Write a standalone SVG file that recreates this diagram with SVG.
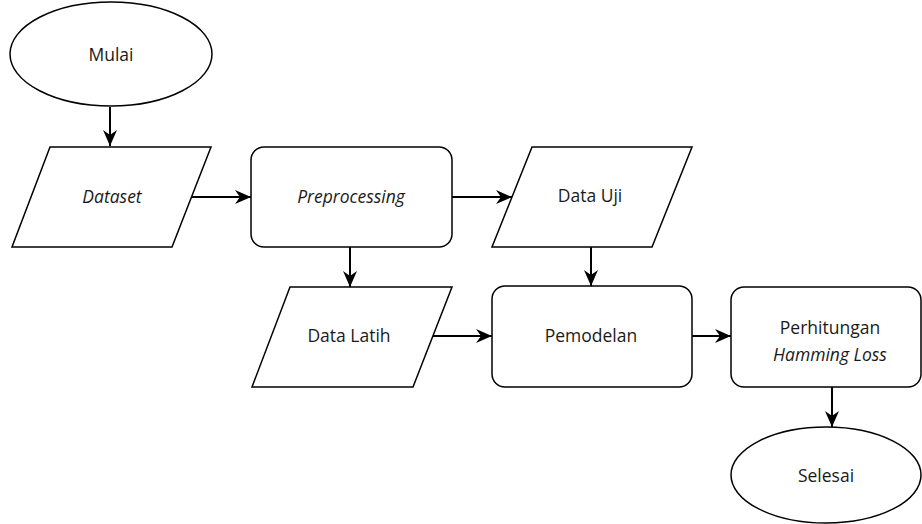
<svg xmlns="http://www.w3.org/2000/svg" width="922" height="524" viewBox="0 0 922 524">
  <style>
    .shape { fill: #ffffff; stroke: #000000; stroke-width: 1.5; }
    .label { font-family: "Open Sans", "Noto Sans", sans-serif; font-size: 17.5px; fill: #1a1a1a; text-anchor: middle; dominant-baseline: central; }
    .it { font-style: italic; }
    .edge { fill: none; stroke: #000000; stroke-width: 2; marker-end: url(#head); }
  </style>
  <defs>
    <marker id="head" markerUnits="userSpaceOnUse" markerWidth="20" markerHeight="16" refX="17" refY="8" orient="auto" viewBox="0 0 20 16">
      <path d="M17,8 L1,1 L6,8 L1,15 Z" fill="#000000"/>
    </marker>
  </defs>
  <rect width="922" height="524" fill="#ffffff"/>

  <g id="connectors">
    <line class="edge" x1="110" y1="107" x2="110" y2="146"/>
    <line class="edge" x1="192" y1="197" x2="251" y2="197"/>
    <line class="edge" x1="452" y1="197" x2="512" y2="197"/>
    <line class="edge" x1="350" y1="247" x2="350" y2="287"/>
    <line class="edge" x1="591" y1="247" x2="591" y2="286"/>
    <line class="edge" x1="432" y1="336" x2="492" y2="336"/>
    <line class="edge" x1="692" y1="336" x2="731" y2="336"/>
    <line class="edge" x1="832" y1="387" x2="832" y2="427"/>
  </g>

  <g id="mulai">
    <ellipse class="shape" cx="111" cy="54" rx="101" ry="52"/>
    <text class="label" x="111" y="54">Mulai</text>
  </g>

  <g id="dataset">
    <polygon class="shape" points="50,147 211,147 172,247 12,247"/>
    <text class="label it" x="112" y="196">Dataset</text>
  </g>

  <g id="preprocessing">
    <rect class="shape" x="251" y="147" width="201" height="100" rx="13" ry="13"/>
    <text class="label it" x="351" y="196">Preprocessing</text>
  </g>

  <g id="data-uji">
    <polygon class="shape" points="532,147 692,147 652,247 492,247"/>
    <text class="label" x="590" y="195">Data Uji</text>
  </g>

  <g id="data-latih">
    <polygon class="shape" points="290,287 452,287 413,387 252,387"/>
    <text class="label" x="349" y="335">Data Latih</text>
  </g>

  <g id="pemodelan">
    <rect class="shape" x="492" y="286" width="200" height="101" rx="13" ry="13"/>
    <text class="label" x="591" y="335">Pemodelan</text>
  </g>

  <g id="perhitungan">
    <rect class="shape" x="731" y="287" width="190" height="100" rx="13" ry="13"/>
    <text class="label" x="830" y="327">Perhitungan</text>
    <text class="label it" x="830" y="354">Hamming Loss</text>
  </g>

  <g id="selesai">
    <ellipse class="shape" cx="826" cy="475" rx="95" ry="48"/>
    <text class="label" x="826" y="475">Selesai</text>
  </g>
</svg>
